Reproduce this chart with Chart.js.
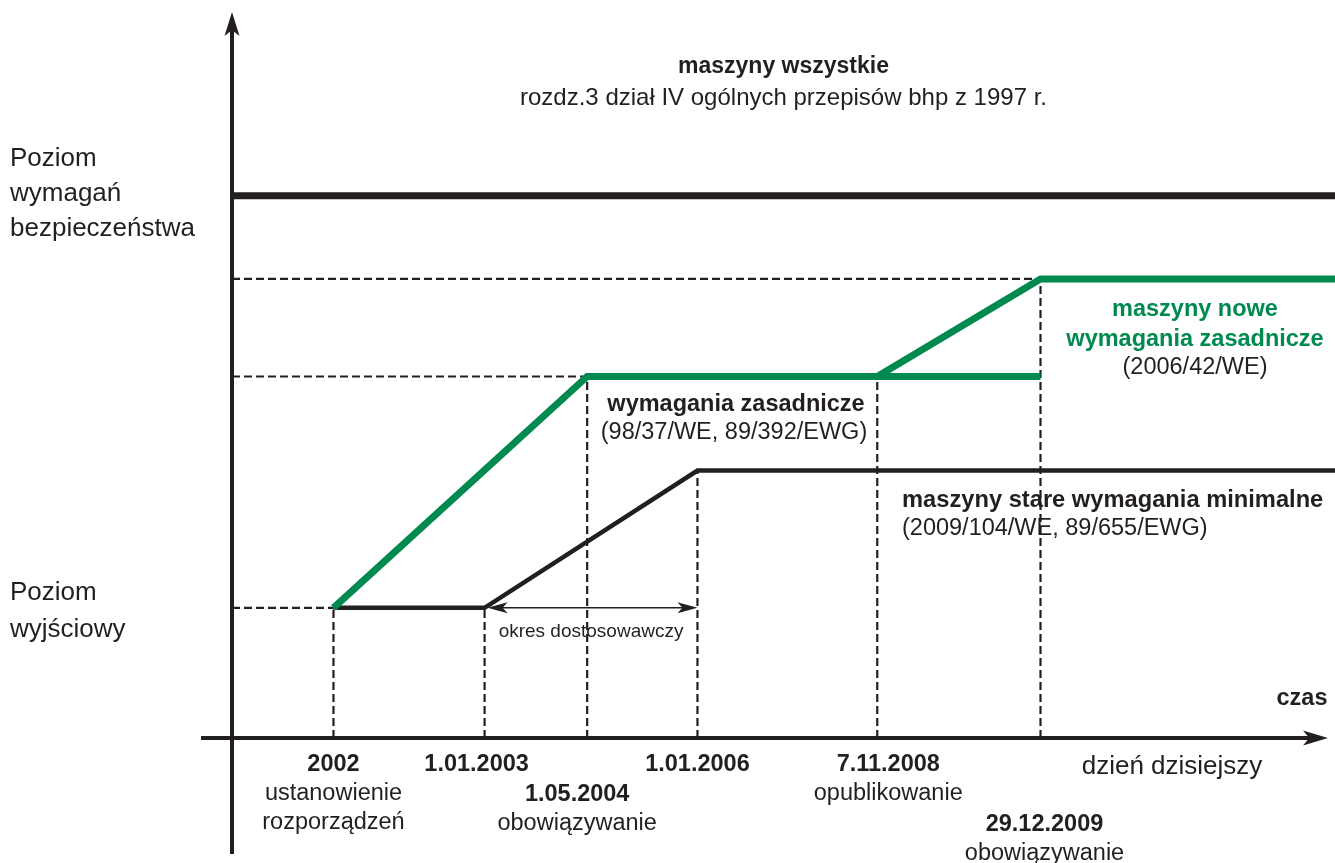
<!DOCTYPE html>
<html>
<head>
<meta charset="utf-8">
<script src="https://cdn.jsdelivr.net/npm/chart.js@4"></script>
<style>
html, body { margin: 0; padding: 0; background: #fff; }
</style>
</head>
<body>
<canvas id="chart" width="1335" height="863"></canvas>
<script>
// time axis runs 0 (y axis) .. 100 (right edge), levels 0 (time axis) .. 100 (top)
const eventX = [9.2, 22.9, 32.2, 42.2, 58.5, 73.3];
const eventDates = ['2002', '1.01.2003', '1.05.2004', '1.01.2006', '7.11.2008', '29.12.2009'];
const eventNotes = [['ustanowienie', 'rozporządzeń'], [], ['obowiązywanie'], [], ['opublikowanie'], ['obowiązywanie']];
const eventRow = [0, 0, 1, 0, 0, 2];

const allX = [0, 100];
const allY = [75, 75];
const newX = [9.2, 32.2, 58.5, 73.3, 100];
const newY = [18, 50, 50, 63.5, 63.5];
const essX = [58.5, 73.3];
const essY = [50, 50];
const oldX = [9.2, 22.9, 42.2, 100];
const oldY = [18, 18, 37, 37];

// corners that get dashed guides down to the time axis / across to the level axis
const vGuideX = [9.2, 22.9, 32.2, 42.2, 58.5, 73.3];
const vGuideY = [18, 18, 50, 37, 50, 63.5];
const hGuideX = [9.2, 32.2, 73.3];
const hGuideY = [18, 50, 63.5];

// adjustment period arrow
const periodX = [22.9, 42.2];
const periodY = 18;

const ink = '#231f20';
const green = '#008a4f';
const font = '"Liberation Sans", Arial, Helvetica, sans-serif';

const pts = (xs, ys) => xs.map((v, i) => ({ x: v, y: ys[i] }));

const guides = [];
vGuideX.forEach((v, i) => {
    guides.push({ x: v, y: 0 }, { x: v, y: vGuideY[i] }, { x: v, y: null });
});
hGuideX.forEach((v, i) => {
    guides.push({ x: 0, y: hGuideY[i] }, { x: v, y: hGuideY[i] }, { x: v, y: null });
});

function text(ctx, str, x, y, size, bold, color, align) {
    ctx.font = (bold ? 'bold ' : '') + size + 'px ' + font;
    ctx.fillStyle = color || ink;
    ctx.textAlign = align || 'center';
    ctx.textBaseline = 'middle';
    ctx.fillText(str, x, y);
}

function arrowHead(ctx, x, y, dx, dy, len, half) {
    // dx, dy: unit direction the tip points to
    ctx.beginPath();
    ctx.moveTo(x, y);
    ctx.lineTo(x - dx * len - dy * half, y - dy * len + dx * half);
    ctx.lineTo(x - dx * len * 0.75, y - dy * len * 0.75);
    ctx.lineTo(x - dx * len + dy * half, y - dy * len - dx * half);
    ctx.closePath();
    ctx.fill();
}

const schemat = {
    id: 'schemat',
    beforeDatasetsDraw(chart) {
        const { ctx, chartArea: a, scales: { x, y } } = chart;
        const y0 = y.getPixelForValue(0);
        ctx.save();

        // axes
        ctx.strokeStyle = ink;
        ctx.fillStyle = ink;
        ctx.lineWidth = 4;
        ctx.beginPath();
        ctx.moveTo(a.left, 854);
        ctx.lineTo(a.left, 30);
        ctx.moveTo(201, y0);
        ctx.lineTo(1310, y0);
        ctx.stroke();
        arrowHead(ctx, a.left, 12, 0, -1, 24, 7.5);
        arrowHead(ctx, 1328, y0, 1, 0, 25, 7.5);

        // texts
        const cx = (a.left + a.right) / 2;
        text(ctx, 'maszyny wszystkie', cx, 67, 23, true);
        text(ctx, 'rozdz.3 dział IV ogólnych przepisów bhp z 1997 r.', cx, 98, 24, false);

        ['Poziom', 'wymagań', 'bezpieczeństwa'].forEach((s, i) => text(ctx, s, 10, 159 + i * 35, 26, false, ink, 'left'));
        ['Poziom', 'wyjściowy'].forEach((s, i) => text(ctx, s, 10, 593 + i * 37, 26, false, ink, 'left'));

        text(ctx, 'wymagania zasadnicze', 736, 405, 23.5, true);
        text(ctx, '(98/37/WE, 89/392/EWG)', 734, 433, 23.5, false);

        text(ctx, 'maszyny nowe', 1195, 310, 23.5, true, green);
        text(ctx, 'wymagania zasadnicze', 1195, 340, 23.5, true, green);
        text(ctx, '(2006/42/WE)', 1195, 368, 23.5, false);

        text(ctx, 'maszyny stare wymagania minimalne', 902, 500, 23.7, true, ink, 'left');
        text(ctx, '(2009/104/WE, 89/655/EWG)', 902, 529, 23.5, false, ink, 'left');

        text(ctx, 'czas', 1302, 699, 23.5, true);
        text(ctx, 'dzień dzisiejszy', 1172, 767, 26, false);

        // event labels under the time axis
        const rowY = [27, 57, 87];
        const shift = [0, -8, -10, 0, 11, 4];
        eventDates.forEach((d, i) => {
            const px = x.getPixelForValue(eventX[i]) + shift[i];
            const py = y0 + rowY[eventRow[i]];
            text(ctx, d, px, py, 23.5, true);
            eventNotes[i].forEach((n, j) => text(ctx, n, px, py + 29 * (j + 1), 23.5, false));
        });

        // adjustment period double arrow
        const p1 = x.getPixelForValue(periodX[0]);
        const p2 = x.getPixelForValue(periodX[1]);
        const py = y.getPixelForValue(periodY);
        ctx.lineWidth = 1.5;
        ctx.beginPath();
        ctx.moveTo(p1 + 10, py);
        ctx.lineTo(p2 - 10, py);
        ctx.stroke();
        arrowHead(ctx, p1 + 3, py, -1, 0, 20, 5.5);
        arrowHead(ctx, p2, py, 1, 0, 20, 5.5);
        text(ctx, 'okres dostosowawczy', (p1 + p2) / 2, py + 24, 19, false);

        ctx.restore();
    }
};

new Chart(document.getElementById('chart').getContext('2d'), {
    type: 'line',
    data: {
        datasets: [{
            label: 'maszyny wszystkie',
            data: pts(allX, allY),
            borderColor: ink,
            borderWidth: 7,
        },
        {
            label: 'maszyny nowe',
            data: pts(newX, newY),
            borderColor: green,
            borderWidth: 7,
        },
        {
            label: 'wymagania zasadnicze',
            data: pts(essX, essY),
            borderColor: green,
            borderWidth: 7,
        },
        {
            label: 'maszyny stare',
            data: pts(oldX, oldY),
            borderColor: ink,
            borderWidth: 4.5,
        },
        {
            label: 'pomocnicze',
            data: guides,
            borderColor: ink,
            borderWidth: 2.2,
            borderDash: [8, 4],
            spanGaps: false,
            order: 10,
        }]
    },
    options: {
        responsive: false,
        animation: false,
        layout: { padding: { left: 232, right: 0, top: 15, bottom: 125 } },
        elements: {
            point: { radius: 0, hoverRadius: 0 },
            line: { tension: 0, borderJoinStyle: 'miter', borderCapStyle: 'butt', fill: false },
        },
        scales: {
            x: { type: 'linear', min: 0, max: 100, display: false },
            y: { type: 'linear', min: 0, max: 100, display: false },
        },
        plugins: {
            legend: { display: false },
            tooltip: { enabled: false },
        },
    },
    plugins: [schemat],
});
</script>
</body>
</html>
